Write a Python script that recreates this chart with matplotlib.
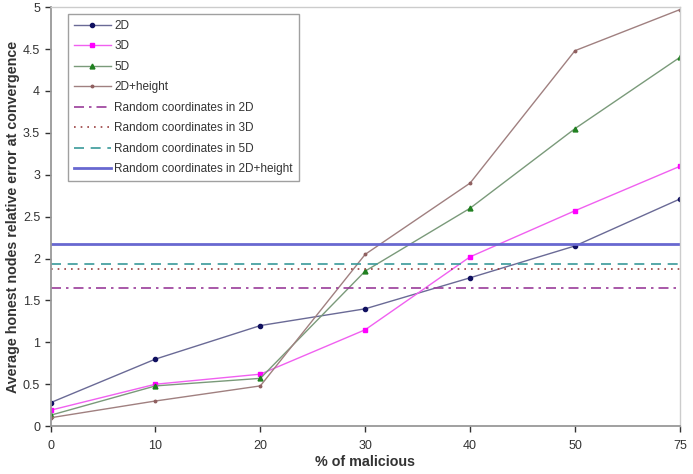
import matplotlib
matplotlib.use("Agg")
import matplotlib.pyplot as plt
import numpy as np

plt.rcParams['font.family'] = ['Liberation Sans', 'DejaVu Sans']

categories = ["0", "10", "20", "30", "40", "50", "75"]
s2d = [0.28, 0.80, 1.20, 1.40, 1.77, 2.15, 2.71]
s3d = [0.19, 0.50, 0.62, 1.15, 2.02, 2.57, 3.10]
s5d = [0.13, 0.48, 0.57, 1.85, 2.60, 3.55, 4.40]
s2dh = [0.10, 0.30, 0.48, 2.05, 2.90, 4.48, 4.97]
rand_2d = 1.65
rand_3d = 1.88
rand_5d = 1.94
rand_2dh = 2.17
yticks = [0, 0.5, 1, 1.5, 2, 2.5, 3, 3.5, 4, 4.5, 5]
ytick_labels = ["0", "0.5", "1", "1.5", "2", "2.5", "3", "3.5", "4", "4.5", "5"]

fig = plt.figure(figsize=(6.93, 4.74), dpi=100)
ax = fig.add_axes([0.073, 0.101, 0.908, 0.884])

x = np.arange(len(categories))
ax.plot(x, s2d, color='#6a6a96', lw=1.0, marker='o', ms=3.0, mfc='#101060', mec='#101060', label='2D')
ax.plot(x, s3d, color='#f060f0', lw=1.0, marker='s', ms=3.5, mfc='#ff00ff', mec='#ff00ff', label='3D')
ax.plot(x, s5d, color='#7a9a7a', lw=1.0, marker='^', ms=3.5, mfc='#208020', mec='#208020', label='5D')
ax.plot(x, s2dh, color='#a08080', lw=1.0, marker='o', ms=1.8, mfc='#906060', mec='#906060', label='2D+height')
ax.axhline(rand_2d, color='#9a3c9a', lw=1.2, ls=(0, (6, 3, 1.5, 3)), label='Random coordinates in 2D')
ax.axhline(rand_3d, color='#9a4040', lw=1.2, ls=(0, (1, 3)), label='Random coordinates in 3D')
ax.axhline(rand_5d, color='#3a9a9a', lw=1.2, ls=(0, (6, 4)), label='Random coordinates in 5D')
ax.axhline(rand_2dh, color='#6868d0', lw=2.0, ls='-', label='Random coordinates in 2D+height')

ax.set_xlim(0, len(categories) - 1)
ax.set_ylim(0, 5)
ax.set_xticks(x)
ax.set_xticklabels(categories)
ax.set_yticks(yticks)
ax.set_yticklabels(ytick_labels)
ax.tick_params(axis='both', labelsize=9, colors='#333333', length=4, width=1, direction='out')
ax.tick_params(axis='x', pad=6)
for s in ['left', 'bottom']:
    ax.spines[s].set_color('#999999')
    ax.spines[s].set_linewidth(1.3)
for s in ['top', 'right']:
    ax.spines[s].set_color('#cccccc')
    ax.spines[s].set_linewidth(1.0)

ax.set_xlabel('% of malicious', fontsize=10.3, fontweight='bold', color='#333333', labelpad=2)
ax.set_ylabel('Average honest nodes relative error at convergence', fontsize=10.3, fontweight='bold', color='#333333', labelpad=2)

leg = ax.legend(loc='upper left', bbox_to_anchor=(0.028, 0.984), fontsize=8.5, frameon=True, fancybox=False,
                borderpad=0.5, labelspacing=0.72, handlelength=3.1, handletextpad=0.3, borderaxespad=0)
leg.get_frame().set_edgecolor('#888888')
leg.get_frame().set_linewidth(1.0)
for t in leg.get_texts():
    t.set_color('#333333')

fig.savefig('out.png', dpi=100)
